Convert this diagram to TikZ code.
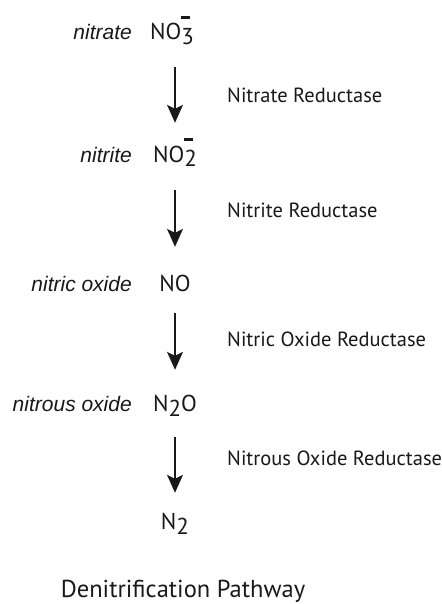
\documentclass[tikz,border=0pt]{standalone}
\usepackage{fontspec}
\setmainfont{PT Sans}
\newfontfamily\itf{Liberation Sans}
\usetikzlibrary{arrows.meta}
\newcommand{\ionbar}{\rlap{\raisebox{21pt}{\rule{9pt}{2.6pt}}}}
\newcommand{\sbs}[1]{\raisebox{-5pt}{\fontsize{23pt}{24pt}\selectfont #1}}
\begin{document}
\begin{tikzpicture}[x=1pt,y=1pt,
  chem/.style={inner sep=0pt, text height=16pt, text depth=6pt, anchor=base,
    font=\fontsize{23pt}{26pt}\selectfont, text=black!90},
  spname/.style={inner sep=0pt, anchor=base east, font=\itf\itshape\fontsize{21pt}{24pt}\selectfont, text=black!90},
  enz/.style={inner sep=0pt, anchor=base west, font=\fontsize{20.5pt}{24pt}\selectfont, text=black!90},
  ttl/.style={inner sep=0pt, anchor=base, font=\fontsize{24.5pt}{28pt}\selectfont, text=black!90},
  arr/.style={line width=1.3pt, black!90, -{Stealth[length=18pt,width=16pt,inset=4pt]}}]
\useasboundingbox (0,0) rectangle (441,-604);
% chemical species
\node[chem] (no3) at (172,-40) {NO\ionbar\sbs{3}};
\node[chem] (no2) at (175,-162) {NO\ionbar\sbs{2}};
\node[chem] (no) at (175,-291) {NO};
\node[chem] (n2o) at (175,-411) {N\sbs{2}O};
\node[chem] (n2) at (175,-529) {N\sbs{2}};
% names
\node[spname] (lno3) at (132,-40) {nitrate};
\node[spname] (lno2) at (132,-162) {nitrite};
\node[spname] (lno) at (132,-291) {nitric oxide};
\node[spname] (ln2o) at (132,-411) {nitrous oxide};
% arrows
\draw[arr, shorten <=21pt, shorten >=23pt] (no3.south -| no2.south) -- (no2.north);
\draw[arr, shorten <=22pt, shorten >=28pt] (no2.south) -- (no.north);
\draw[arr, shorten <=16pt, shorten >=25pt] (no.south) -- (n2o.north);
\draw[arr, shorten <=20pt, shorten >=20pt] (n2o.south) -- (n2.north);
% enzymes
\node[enz] (e1) at (227,-103) {Nitrate Reductase};
\node[enz] (e2) at (227,-217) {Nitrite Reductase};
\node[enz] (e3) at (227,-346) {Nitric Oxide Reductase};
\node[enz] (e4) at (227,-465) {Nitrous Oxide Reductase};
% title
\node[ttl] (title) at (183,-597) {Denitrification Pathway};
\end{tikzpicture}
\end{document}
